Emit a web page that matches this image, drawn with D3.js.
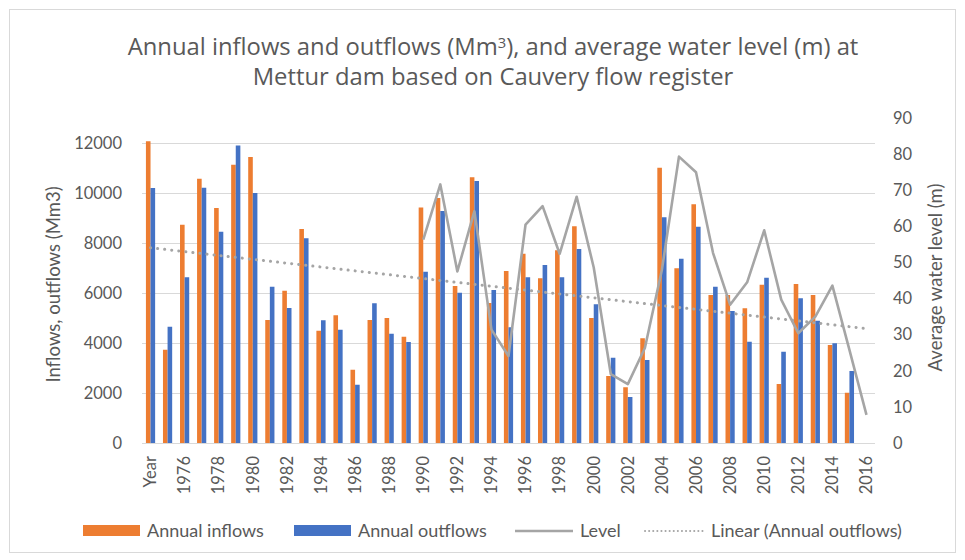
<!DOCTYPE html>
<html>
<head>
<meta charset="utf-8">
<title>Mettur dam</title>
<style>
  body { margin: 0; background: #fff; }
  text { font-family: Lato, "Open Sans", sans-serif; fill: #595959; }
  .grid line { stroke: #d9d9d9; stroke-width: 1; shape-rendering: crispEdges; }
  .grid path { display: none; }
  .axis path { display: none; }
  .axis text { font-size: 16.5px; }
  .title { font-family: "Open Sans", sans-serif; }
</style>
</head>
<body>
<script src="https://cdn.jsdelivr.net/npm/d3@7"></script>
<script>
var categories = ["Year", "1975", "1976", "1977", "1978", "1979", "1980", "1981", "1982", "1983",
  "1984", "1985", "1986", "1987", "1988", "1989", "1990", "1991", "1992", "1993",
  "1994", "1995", "1996", "1997", "1998", "1999", "2000", "2001", "2002", "2003",
  "2004", "2005", "2006", "2007", "2008", "2009", "2010", "2011", "2012", "2013",
  "2014", "2015", "2016"];

// Mm3
var inflows = [12070, 3730, 8730, 10570, 9400, 11130, 11440, 4920, 6090, 8560,
  4490, 5110, 2930, 4920, 5000, 4250, 9420, 9800, 6280, 10630,
  5600, 6880, 7570, 6590, 7710, 8670, 5000, 2680, 2230, 4190,
  11010, 6990, 9550, 5920, 5920, 5390, 6330, 2360, 6360, 5920,
  3920, 2010, null];

var outflows = [10200, 4650, 6630, 10210, 8450, 11900, 10000, 6250, 5400, 8190,
  4910, 4530, 2330, 5590, 4370, 4040, 6850, 9280, 6010, 10480,
  6120, 4630, 6630, 7120, 6630, 7760, 5550, 3410, 1840, 3320,
  9030, 7370, 8650, 6250, 5280, 4050, 6610, 3650, 5790, 4890,
  3990, 2880, null];

// m
var level = [null, null, null, null, null, null, null, null, null, null,
  null, null, null, null, null, null, 56.3, 71.6, 47.5, 64.2,
  31.4, 24.1, 60.5, 65.6, 52.4, 68.2, 48.6, 19.1, 16.3, 26.3,
  48.0, 79.3, 75.0, 52.6, 38.3, 44.5, 58.9, 39.7, 30.4, 35.0,
  43.6, 25.8, 7.8];

var leftTicks = [0, 2000, 4000, 6000, 8000, 10000, 12000];
var rightTicks = [0, 10, 20, 30, 40, 50, 60, 70, 80, 90];

var width = 965, height = 560;
var plotL = 142, plotR = 875, plotT = 118, plotB = 443;

var svg = d3.select("body").append("svg")
  .attr("width", width).attr("height", height);

// chart border
svg.append("rect")
  .attr("x", 9.5).attr("y", 9.5)
  .attr("width", 946).attr("height", 543)
  .attr("fill", "none").attr("stroke", "#d9d9d9");

var x = d3.scaleBand().domain(categories).range([plotL, plotR]);
var yL = d3.scaleLinear().domain([0, 13000]).range([plotB, plotT]);
var yR = d3.scaleLinear().domain([0, 90]).range([plotB, plotT]);
var barW = 4.6;
var cx = function(c) { return x(c) + x.bandwidth() / 2; };

// gridlines
svg.append("g").attr("class", "grid")
  .attr("transform", "translate(" + plotL + ",0)")
  .call(d3.axisLeft(yL).tickValues(leftTicks).tickSize(-(plotR - plotL)).tickFormat(""));

// bars
svg.append("g").selectAll("rect")
  .data(categories.filter(function(c, i) { return inflows[i] != null; }))
  .enter().append("rect")
  .attr("x", function(c) { return cx(c) - barW; })
  .attr("y", function(c) { return yL(inflows[categories.indexOf(c)]); })
  .attr("width", barW)
  .attr("height", function(c) { return plotB - yL(inflows[categories.indexOf(c)]); })
  .attr("fill", "#ed7d31");

svg.append("g").selectAll("rect")
  .data(categories.filter(function(c, i) { return outflows[i] != null; }))
  .enter().append("rect")
  .attr("x", function(c) { return cx(c); })
  .attr("y", function(c) { return yL(outflows[categories.indexOf(c)]); })
  .attr("width", barW)
  .attr("height", function(c) { return plotB - yL(outflows[categories.indexOf(c)]); })
  .attr("fill", "#4472c4");

// x axis line
svg.append("line")
  .attr("x1", plotL).attr("x2", plotR)
  .attr("y1", plotB + 0.5).attr("y2", plotB + 0.5)
  .attr("stroke", "#d9d9d9");

// level line
var lvl = categories.map(function(c, i) { return [cx(c), level[i]]; });
svg.append("path")
  .datum(lvl)
  .attr("fill", "none")
  .attr("stroke", "#a5a5a5")
  .attr("stroke-width", 2.6)
  .attr("stroke-linejoin", "round")
  .attr("d", d3.line()
    .defined(function(d) { return d[1] != null; })
    .x(function(d) { return d[0]; })
    .y(function(d) { return yR(d[1]); }));

// linear trend of outflows (least squares, x = 1..n)
var pts = [];
outflows.forEach(function(v, i) { if (v != null) pts.push([i + 1, v]); });
var mx = d3.mean(pts, function(p) { return p[0]; });
var my = d3.mean(pts, function(p) { return p[1]; });
var slope = d3.sum(pts, function(p) { return (p[0] - mx) * (p[1] - my); }) /
  d3.sum(pts, function(p) { return (p[0] - mx) * (p[0] - mx); });
var icpt = my - slope * mx;
var trend = categories.map(function(c, i) { return [cx(c), icpt + slope * (i + 1)]; });
svg.append("path")
  .datum(trend)
  .attr("fill", "none")
  .attr("stroke", "#a5a5a5")
  .attr("stroke-width", 3)
  .attr("stroke-linecap", "round")
  .attr("stroke-dasharray", "0.1 7")
  .attr("d", d3.line()
    .x(function(d) { return d[0]; })
    .y(function(d) { return yL(d[1]); }));

// axes
svg.append("g").attr("class", "axis")
  .attr("transform", "translate(" + plotL + ",0)")
  .call(d3.axisLeft(yL).tickValues(leftTicks).tickSize(0).tickPadding(20).tickFormat(d3.format("d")));

svg.append("g").attr("class", "axis")
  .attr("transform", "translate(" + plotR + ",0)")
  .call(d3.axisRight(yR).tickValues(rightTicks).tickSize(0).tickPadding(18));

svg.append("g").attr("class", "axis")
  .attr("transform", "translate(0," + plotB + ")")
  .call(d3.axisBottom(x).tickValues(categories.filter(function(c, i) { return i % 2 === 0; })).tickSize(0))
  .selectAll("text")
  .attr("transform", "rotate(-90)")
  .attr("x", -13).attr("y", 0).attr("dy", "0.35em")
  .attr("text-anchor", "end");

// axis titles
svg.append("text")
  .attr("transform", "translate(60," + ((plotT + plotB) / 2 + 4) + ") rotate(-90)")
  .attr("text-anchor", "middle")
  .style("font-size", "18.5px")
  .text("Inflows, outflows (Mm3)");

svg.append("text")
  .attr("transform", "translate(942," + ((plotT + plotB) / 2 - 3) + ") rotate(-90)")
  .attr("text-anchor", "middle")
  .style("font-size", "18.5px")
  .text("Average water level (m)");

// title, sized so the first line spans the same width as the original
var t1 = svg.append("text").attr("class", "title")
  .attr("x", 493).attr("y", 55)
  .attr("text-anchor", "middle")
  .style("font-size", "21px");
t1.append("tspan").text("Annual inflows and outflows (Mm");
t1.append("tspan").attr("class", "sup").attr("dy", -7).style("font-size", "13px").text("3");
t1.append("tspan").attr("dy", 7).text("), and average water level (m) at");
var fs = 21 * 731 / t1.node().getComputedTextLength();
t1.style("font-size", fs + "px");
t1.select(".sup").style("font-size", (fs * 0.62) + "px");

svg.append("text").attr("class", "title")
  .attr("x", 493).attr("y", 85)
  .attr("text-anchor", "middle")
  .style("font-size", fs + "px")
  .text("Mettur dam based on Cauvery flow register");

// legend
var legend = svg.append("g").attr("transform", "translate(0,531)");
var items = [
  { name: "Annual inflows", kind: "bar", color: "#ed7d31", x: 83, w: 57 },
  { name: "Annual outflows", kind: "bar", color: "#4472c4", x: 294, w: 57 },
  { name: "Level", kind: "line", color: "#a5a5a5", x: 515, w: 58 },
  { name: "Linear (Annual outflows)", kind: "dot", color: "#a5a5a5", x: 645, w: 59 }
];
items.forEach(function(d) {
  if (d.kind === "bar") {
    legend.append("rect").attr("x", d.x).attr("y", -6).attr("width", d.w).attr("height", 11)
      .attr("fill", d.color);
  } else {
    legend.append("line").attr("x1", d.x).attr("x2", d.x + d.w).attr("y1", 0).attr("y2", 0)
      .attr("stroke", d.color)
      .attr("stroke-width", d.kind === "line" ? 2.6 : 2)
      .attr("stroke-linecap", d.kind === "dot" ? "round" : "butt")
      .attr("stroke-dasharray", d.kind === "dot" ? "0.1 4" : null);
  }
  legend.append("text").attr("x", d.x + d.w + 7).attr("y", 0).attr("dy", "0.35em")
    .style("font-size", "18px").text(d.name);
});
</script>
</body>
</html>
